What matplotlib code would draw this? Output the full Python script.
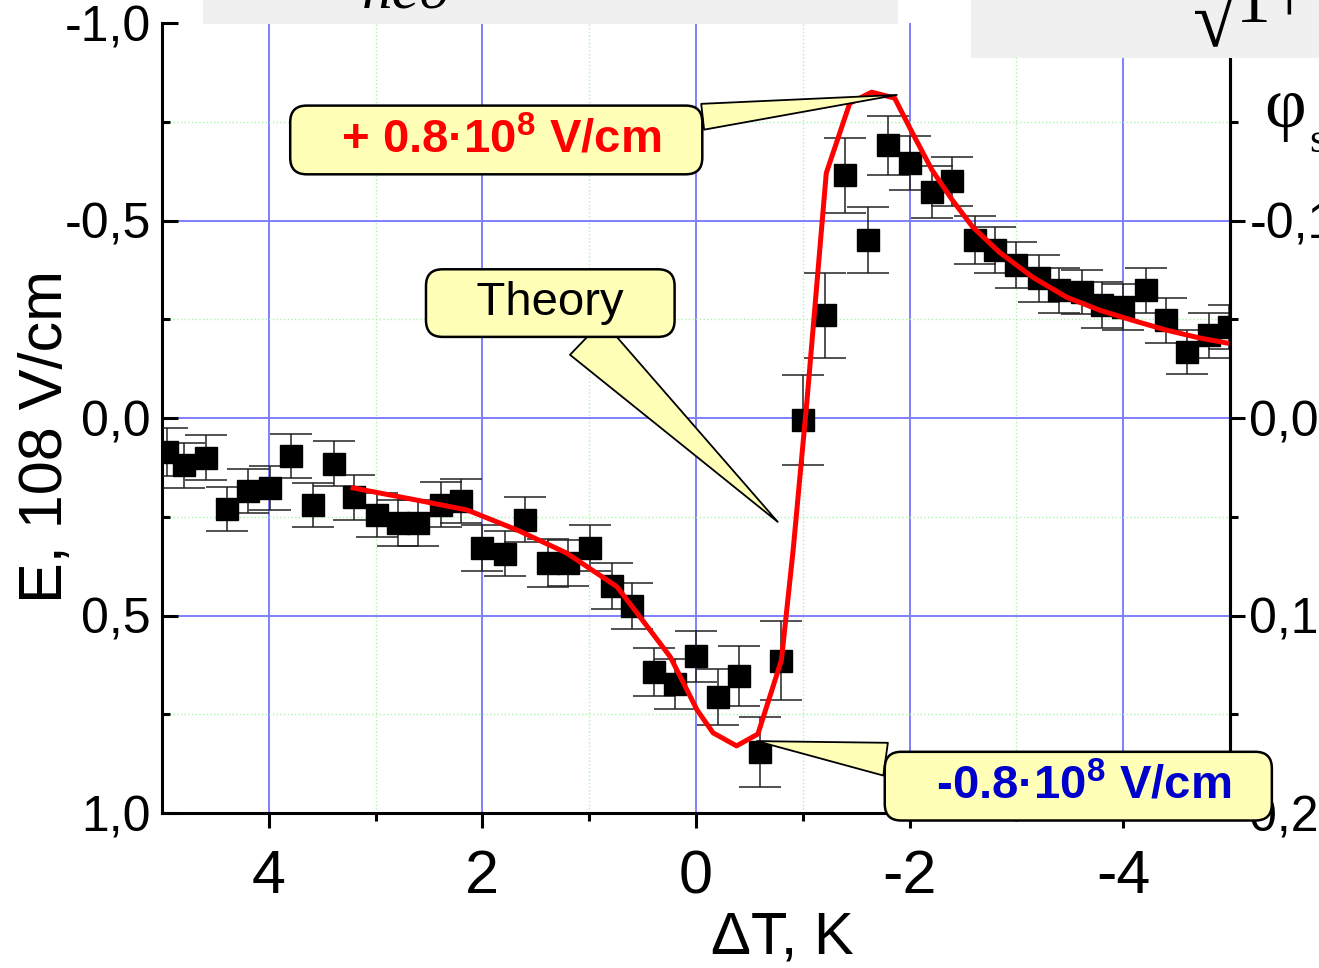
import matplotlib
matplotlib.use("Agg")
import matplotlib.pyplot as plt
from matplotlib.patches import Rectangle

plt.rcParams['font.family'] = ['Liberation Sans', 'DejaVu Sans']
# superscripts in the bold callouts come from mathtext
plt.rcParams['mathtext.fontset'] = 'custom'
plt.rcParams['mathtext.rm'] = 'Liberation Sans:bold'
plt.rcParams['mathtext.bf'] = 'Liberation Sans:bold'

# measured points (delta T in K, E in 1e8 V/cm, inverted axis)
dT = [4.95, 4.79, 4.59, 4.39, 4.19, 3.99, 3.79, 3.59, 3.39, 3.20,
      2.99, 2.79, 2.60, 2.39, 2.20, 2.00, 1.79, 1.60, 1.39, 1.20,
      0.99, 0.79, 0.60, 0.39, 0.20, 0.00, -0.21, -0.40, -0.60, -0.80,
      -1.00, -1.21, -1.40, -1.61, -1.80, -2.00, -2.21, -2.40, -2.61, -2.80,
      -3.00, -3.21, -3.40, -3.61, -3.80, -4.00, -4.21, -4.40, -4.60, -4.80,
      -4.99]
E = [0.086, 0.12, 0.10, 0.23, 0.185, 0.177, 0.096, 0.22, 0.116, 0.20,
     0.245, 0.266, 0.266, 0.22, 0.21, 0.33, 0.344, 0.258, 0.367, 0.367,
     0.33, 0.425, 0.476, 0.643, 0.673, 0.603, 0.706, 0.653, 0.846, 0.615,
     0.005, -0.26, -0.615, -0.45, -0.69, -0.645, -0.572, -0.60, -0.45, -0.425,
     -0.387, -0.354, -0.324, -0.319, -0.286, -0.281, -0.324, -0.248, -0.167, -0.21,
     -0.23]
E_err = [0.060, 0.057, 0.057, 0.055, 0.055, 0.056, 0.056, 0.056, 0.057, 0.057,
         0.056, 0.058, 0.058, 0.057, 0.056, 0.058, 0.057, 0.057, 0.061, 0.058,
         0.058, 0.058, 0.059, 0.060, 0.063, 0.065, 0.070, 0.077, 0.089, 0.100,
         0.114, 0.108, 0.095, 0.084, 0.074, 0.068, 0.065, 0.062, 0.061, 0.059,
         0.059, 0.059, 0.057, 0.055, 0.058, 0.058, 0.057, 0.057, 0.056, 0.057,
         0.056]

# theory curve
dT_theory = [3.21, 2.61, 2.14, 1.67, 1.21, 0.74, 0.43, 0.24, -0.01, -0.16,
             -0.38, -0.58, -0.80, -0.91, -1.04, -1.22, -1.44, -1.645, -1.86, -2.03,
             -2.21, -2.40, -2.59, -2.84, -3.15, -3.47, -3.78, -4.08, -4.40, -4.71,
             -4.97]
E_theory = [0.177, 0.208, 0.233, 0.284, 0.342, 0.427, 0.537, 0.605, 0.739, 0.797,
            0.83, 0.80, 0.613, 0.334, -0.046, -0.62, -0.797, -0.825, -0.81, -0.72,
            -0.628, -0.552, -0.484, -0.42, -0.357, -0.306, -0.273, -0.248, -0.223, -0.203,
            -0.19]

xticks = [4, 2, 0, -2, -4]
xtick_labels = ['4', '2', '0', '-2', '-4']
yticks = [-1.0, -0.5, 0.0, 0.5, 1.0]
ytick_labels = ['-1,0', '-0,5', '0,0', '0,5', '1,0']
ytick_labels_right = ['-0,2', '-0,1', '0,0', '0,1', '0,2']

fig = plt.figure(figsize=(13.19, 9.68), dpi=100)
ax = fig.add_axes([0.1228, 0.1601, 0.8097, 0.8161])
ax.set_xlim(5, -5)
ax.set_ylim(1.0, -1.0)

ax.set_xticks(xticks)
ax.set_xticklabels(xtick_labels)
ax.set_xticks([3, 1, -1, -3], minor=True)
ax.set_yticks(yticks)
ax.set_yticklabels(ytick_labels)
ax.set_yticks([-0.75, -0.25, 0.25, 0.75], minor=True)

ax.grid(which='major', color='#7f7fff', lw=1.4)
ax.grid(which='minor', color='#aaf5aa', lw=1.0, ls=':')
ax.set_axisbelow(True)
for t in (ax.yaxis.get_major_ticks()[0], ax.yaxis.get_major_ticks()[-1]):
    t.gridline.set_visible(False)

ax.tick_params(axis='y', which='major', direction='in', length=11.5, width=2.2,
               labelsize=36, pad=8, right=False)
ax.tick_params(axis='y', which='minor', direction='in', length=6, width=2.2, right=False)
ax.tick_params(axis='x', which='major', direction='out', length=11, width=2.2,
               labelsize=44, pad=15, top=False)
ax.tick_params(axis='x', which='minor', direction='out', length=6, width=2.2, top=False)
ax.spines['top'].set_visible(False)
for s in ('left', 'bottom', 'right'):
    ax.spines[s].set_linewidth(2.2)

ax.set_ylabel('E, 108 V/cm', fontsize=44)
ax.yaxis.set_label_coords(-0.081, 0.477)
ax.set_xlabel('ΔT, K', fontsize=43)
ax.xaxis.set_label_coords(0.581, -0.124)

# right axis (phi)
ax2 = ax.twinx()
ax2.set_ylim(1.0, -1.0)
ax2.set_yticks(yticks)
ax2.set_yticklabels(ytick_labels_right)
ax2.set_yticks([-0.75, -0.25, 0.25, 0.75], minor=True)
ax2.tick_params(axis='y', which='major', direction='out', length=11, width=2.2,
                labelsize=36, pad=3)
ax2.tick_params(axis='y', which='minor', direction='out', length=6, width=2.2)
ax2.spines['top'].set_visible(False)
ax2.spines['right'].set_linewidth(2.2)

ax.errorbar(dT, E, yerr=E_err, fmt='s', color='black', ms=15.5, ecolor='#222222',
            elinewidth=1.1, capsize=15, capthick=1.1, zorder=3)
ax.plot(dT_theory, E_theory, color='red', lw=3.6, zorder=4)

box = dict(boxstyle='round,pad=0.25,rounding_size=0.35', fc='#ffffb8', ec='black', lw=1.8)
ax2.annotate('   + 0.8·10$^8$ V/cm   ', xy=(-1.88, -0.818), xytext=(1.87, -0.704),
             ha='center', va='center', fontsize=34, fontweight='bold', color='red',
             bbox=box, zorder=10,
             arrowprops=dict(arrowstyle='wedge,tail_width=0.55,shrink_factor=0.5',
                             fc='#ffffb8', ec='black', lw=1.3, shrinkA=0, shrinkB=0))
ax2.annotate('   Theory   ', xy=(-0.766, 0.263), xytext=(1.364, -0.291),
             ha='center', va='center', fontsize=34, color='black',
             bbox=box, zorder=10,
             arrowprops=dict(arrowstyle='wedge,tail_width=1.0,shrink_factor=0.5',
                             fc='#ffffb8', ec='black', lw=1.3, shrinkA=0, shrinkB=0))
ax2.annotate('   -0.8·10$^8$ V/cm   ', xy=(-0.57, 0.818), xytext=(-3.58, 0.932),
             ha='center', va='center', fontsize=34, fontweight='bold', color='#0000cc',
             bbox=box, zorder=10, annotation_clip=False,
             arrowprops=dict(arrowstyle='wedge,tail_width=0.7,shrink_factor=0.5',
                             fc='#ffffb8', ec='black', lw=1.3, shrinkA=0, shrinkB=0))

# cropped formula panels from the slide above the plot
W, H = 1319.0, 968.0
fig.add_artist(Rectangle((203 / W, 1 - 24 / H), (898 - 203) / W, 24 / H,
                         transform=fig.transFigure, fc='#f0f0f0', ec='none', zorder=5))
fig.add_artist(Rectangle((971 / W, 1 - 58 / H), (W - 971) / W, 58 / H,
                         transform=fig.transFigure, fc='#f0f0f0', ec='none', zorder=5))
serif = ['Liberation Serif', 'DejaVu Serif']
fig.text(362 / W, 1 - 8 / H, 'neϑ', fontsize=44, style='italic', family=serif,
         va='baseline', zorder=6)
fig.text(1193 / W, 1 - 46 / H, '√', fontsize=58, family=serif, va='baseline', zorder=6)
fig.text(1236 / W, 1 - 22 / H, '1+', fontsize=50, family=serif, va='baseline', zorder=6)
fig.text(1264 / W, 1 - 110 / H, 'φ', fontsize=52, family=serif, va='center')
fig.text(1309 / W, 1 - 142 / H, 's', fontsize=30, family=serif, va='center')

plt.savefig('out.png', dpi=100)
